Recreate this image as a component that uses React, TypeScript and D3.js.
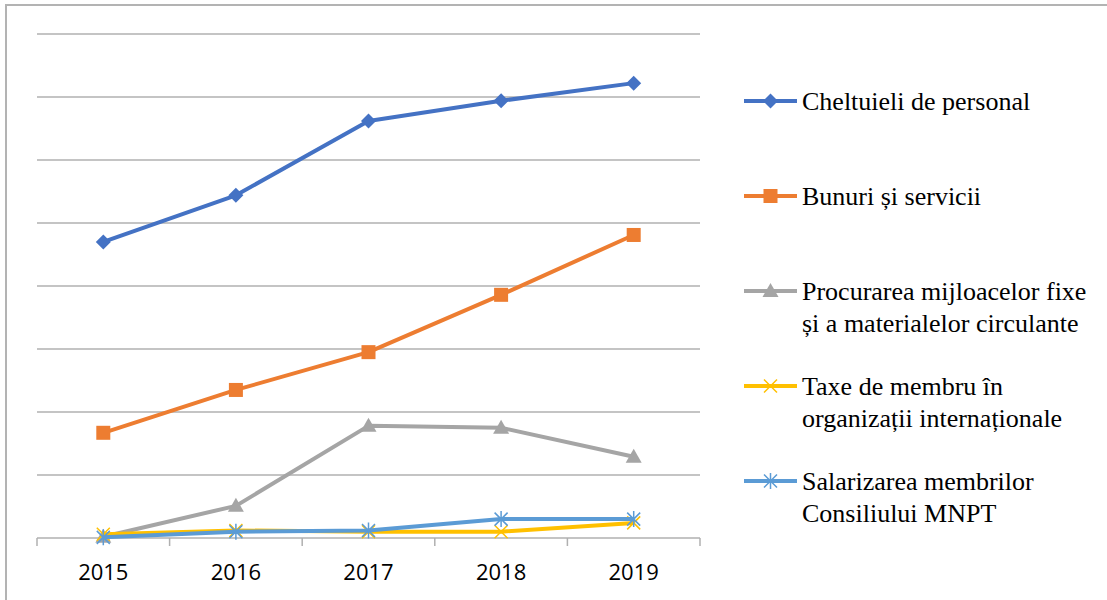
import React from "react";
import * as d3 from "d3";

const years = ["2015", "2016", "2017", "2018", "2019"];
const cheltuieli = [47.0, 54.4, 66.2, 69.4, 72.2];
const bunuri = [16.7, 23.5, 29.5, 38.6, 48.1];
const procurarea = [0.2, 5.1, 17.8, 17.5, 12.9];
const taxe = [0.6, 1.2, 1.0, 1.0, 2.4];
const salarizarea = [0.1, 1.0, 1.2, 3.0, 3.0];
const gridTicks = [0, 10, 20, 30, 40, 50, 60, 70, 80];

type Marker = "diamond" | "square" | "triangle" | "x" | "star";

const series: { name: string[]; values: number[]; color: string; marker: Marker }[] = [
  { name: ["Cheltuieli de personal"], values: cheltuieli, color: "#4472C4", marker: "diamond" },
  { name: ["Bunuri și servicii"], values: bunuri, color: "#ED7D31", marker: "square" },
  { name: ["Procurarea mijloacelor fixe", "și a materialelor circulante"], values: procurarea, color: "#A5A5A5", marker: "triangle" },
  { name: ["Taxe de membru în", "organizații internaționale"], values: taxe, color: "#FFC000", marker: "x" },
  { name: ["Salarizarea membrilor", "Consiliului MNPT"], values: salarizarea, color: "#5B9BD5", marker: "star" },
];

function MarkerShape({ type, x, y, color }: { type: Marker; x: number; y: number; color: string }) {
  switch (type) {
    case "diamond":
      return <path d={`M${x},${y - 7.5}L${x + 7.5},${y}L${x},${y + 7.5}L${x - 7.5},${y}Z`} fill={color} />;
    case "square":
      return <rect x={x - 7} y={y - 7} width={14} height={14} fill={color} />;
    case "triangle":
      return <path d={`M${x},${y - 8}L${x + 8},${y + 6}L${x - 8},${y + 6}Z`} fill={color} />;
    case "x":
      return (
        <path d={`M${x - 6.5},${y - 6.5}L${x + 6.5},${y + 6.5}M${x - 6.5},${y + 6.5}L${x + 6.5},${y - 6.5}`} stroke={color} strokeWidth={1.5} fill="none" />
      );
    case "star":
      return (
        <path
          d={`M${x - 6.5},${y - 6.5}L${x + 6.5},${y + 6.5}M${x - 6.5},${y + 6.5}L${x + 6.5},${y - 6.5}M${x},${y - 8}L${x},${y + 8}`}
          stroke={color}
          strokeWidth={1.5}
          fill="none"
        />
      );
  }
}

export default function App() {
  const W = 1107;
  const H = 600;
  const left = 37;
  const right = 700;
  const top = 34;
  const bottom = 538;

  const x = d3.scaleBand<string>().domain(years).range([left, right]);
  const y = d3.scaleLinear().domain([0, 80]).range([bottom, top]);
  const cx = (d: string) => (x(d) as number) + x.bandwidth() / 2;

  const line = d3
    .line<number>()
    .x((_, i) => cx(years[i]))
    .y((v) => y(v));

  const tickXs = [...years.map((d) => x(d) as number), right];

  const legendY = [101, 196, 291, 386, 481];
  const serifFont = "Liberation Serif, Times New Roman, DejaVu Serif, serif";

  return (
    <svg
      width={W}
      height={H}
      style={{ position: "absolute", left: 0, top: 0, background: "#fff" }}
    >
      <rect x={6} y={5} width={W + 10} height={H + 10} fill="#fff" stroke="#b3b3b3" strokeWidth={2} />
      {gridTicks.slice(1).map((t) => (
        <line key={t} x1={left} x2={right} y1={y(t)} y2={y(t)} stroke="#b0b0b0" strokeWidth={1.5} />
      ))}
      <line x1={left} x2={right} y1={bottom} y2={bottom} stroke="#b0b0b0" strokeWidth={1.5} />
      {tickXs.map((tx, i) => (
        <line key={i} x1={tx} x2={tx} y1={bottom} y2={bottom + 8} stroke="#b0b0b0" strokeWidth={1.5} />
      ))}
      {years.map((yr) => (
        <text
          key={yr}
          x={cx(yr)}
          y={580}
          textAnchor="middle"
          fontFamily="Open Sans, Liberation Sans, Arial, sans-serif"
          fontSize={22}
          fill="#000"
        >
          {yr}
        </text>
      ))}
      {series.map((s) => (
        <g key={s.name[0]}>
          <path d={line(s.values) as string} fill="none" stroke={s.color} strokeWidth={4} strokeLinejoin="round" />
          {s.values.map((v, i) => (
            <MarkerShape key={i} type={s.marker} x={cx(years[i])} y={y(v)} color={s.color} />
          ))}
        </g>
      ))}
      {series.map((s, i) => {
        const ly = legendY[i];
        return (
          <g key={"lg" + i}>
            <line x1={744} x2={797} y1={ly} y2={ly} stroke={s.color} strokeWidth={4} />
            <MarkerShape type={s.marker} x={770.5} y={ly} color={s.color} />
            <text x={802} y={ly + 9} fontFamily={serifFont} fontSize={26} fill="#000">
              {s.name.map((n, j) => (
                <tspan key={j} x={802} dy={j === 0 ? 0 : 31.5}>
                  {n}
                </tspan>
              ))}
            </text>
          </g>
        );
      })}
    </svg>
  );
}
